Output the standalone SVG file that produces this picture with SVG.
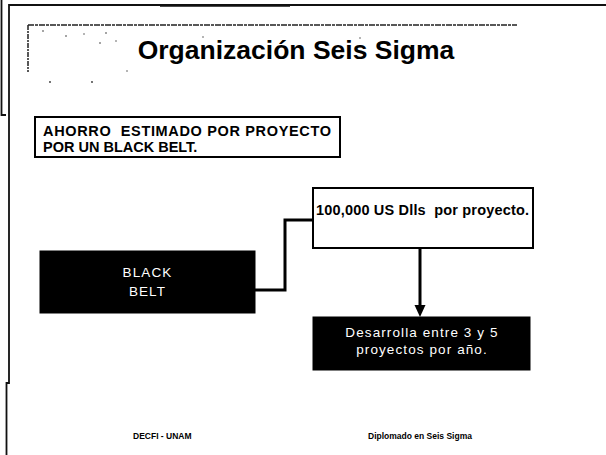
<svg xmlns="http://www.w3.org/2000/svg" width="606" height="455" viewBox="0 0 606 455">
<style>
text{font-family:"Liberation Sans",Arial,sans-serif}
.frame{fill:none;stroke:#111;stroke-width:1.8}
.box{fill:#fff;stroke:#000;stroke-width:2}
.blk{fill:#000;stroke:#000}
.conn{fill:none;stroke:#000;stroke-width:3}
.bt{font-weight:bold;fill:#000}
.pre{white-space:pre}
.wt{fill:#fff;font-size:13.5px;letter-spacing:1.1px;text-anchor:middle}
.ft{font-weight:bold;font-size:8.5px;fill:#000}
.dot{fill:#333}
</style>
<rect width="606" height="455" fill="#fff"/>
<g id="frame">
<path class="frame" d="M606,5 H9 V383 H6.5 V455"/>
<path d="M160,5.5 H290" stroke="#111" stroke-width="2.5"/>
<path class="frame" d="M1.5,0 V115 H6" stroke-width="1.5"/>
</g>
<g id="title">
<path d="M28,25 H517" stroke="#222" stroke-width="1.5" stroke-dasharray="6,1,3,1"/>
<path d="M28,25 V72" stroke="#222" stroke-width="1.5" stroke-dasharray="5,1,2,1"/>
<circle class="dot" cx="43" cy="31" r="0.8"/><circle class="dot" cx="66" cy="36" r="0.8"/>
<circle class="dot" cx="84" cy="34" r="0.7"/><circle class="dot" cx="100" cy="43" r="0.8"/>
<circle class="dot" cx="106" cy="33" r="0.8"/><circle class="dot" cx="116" cy="41" r="0.7"/>
<circle class="dot" cx="50" cy="82" r="0.9"/><circle class="dot" cx="92" cy="82" r="0.9"/>
<circle class="dot" cx="127" cy="71" r="0.7"/><circle class="dot" cx="203" cy="37" r="0.7"/>
<circle class="dot" cx="360" cy="38" r="0.7"/>
<text x="296" y="59" class="bt" font-size="26.5" text-anchor="middle">Organización Seis Sigma</text>
</g>
<g id="ahorro">
<rect class="box" x="35" y="117" width="305" height="40"/>
<text class="bt pre" font-size="14.5" x="43" y="136" textLength="288" lengthAdjust="spacing" xml:space="preserve">AHORRO  ESTIMADO POR PROYECTO</text>
<text class="bt" font-size="14.5" x="43" y="152">POR UN BLACK BELT.</text>
</g>
<g id="black-belt">
<rect class="blk" x="40" y="251" width="215" height="62"/>
<text class="wt" x="147.5" y="277" font-size="14">BLACK</text>
<text class="wt" x="147.5" y="296" font-size="14">BELT</text>
</g>
<g id="ahorro-monto">
<rect class="box" x="313" y="188" width="220" height="60"/>
<text class="bt pre" font-size="14.5" x="316" y="215" textLength="213" lengthAdjust="spacing" xml:space="preserve">100,000 US Dlls  por proyecto.</text>
</g>
<g id="proyectos">
<rect class="blk" x="313" y="317" width="217" height="53"/>
<text class="wt" x="422" y="337">Desarrolla entre 3 y 5</text>
<text class="wt" x="422" y="354">proyectos por año.</text>
</g>
<g id="connectors">
<path class="conn" d="M313,220 H285 V290 H255"/>
<path class="conn" d="M420,249 V307"/>
<polygon points="414.5,305 425.5,305 420,317" fill="#000"/>
</g>
<g id="footer">
<text class="ft" x="133" y="439">DECFI - UNAM</text>
<text class="ft" x="368" y="439">Diplomado en Seis Sigma</text>
</g>
</svg>
